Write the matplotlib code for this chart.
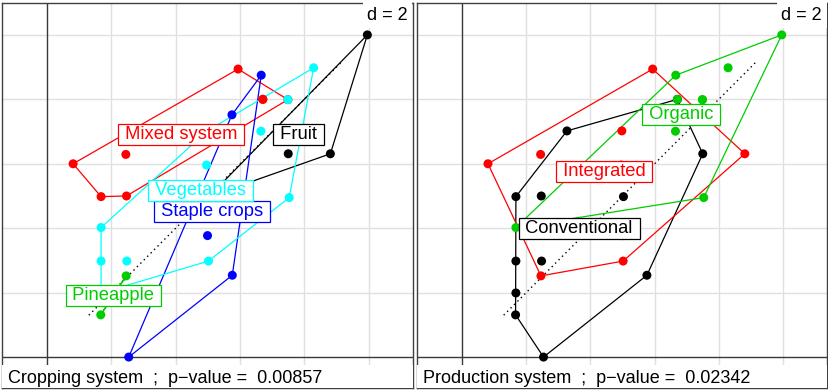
import matplotlib
matplotlib.use('Agg')
import matplotlib.pyplot as plt
import numpy as np
from matplotlib.patches import Rectangle

plt.rcParams['font.family'] = ['Liberation Sans', 'DejaVu Sans']

# sample scores on the two axes (31 samples)
x = [9.96, 8.81, 7.50, 5.03, 5.94, 6.71, 6.71, 7.49, 2.45, 0.81, 1.68, 2.47, 3.27,
     8.29, 7.49, 6.65, 4.96, 7.53, 5.02, 1.68, 1.68, 2.48, 1.68, 4.98,
     6.66, 5.75, 4.99, 5.76, 2.54, 2.46, 1.67]
y = [10.00, 6.31, 6.31, 4.98, 8.94, 8.00, 8.00, 7.99, 6.29, 6.00, 4.98, 5.00, 7.02,
     8.98, 7.99, 7.01, 5.96, 4.95, 2.98, 4.02, 2.98, 2.98, 1.99, 7.02,
     8.75, 7.52, 3.77, 2.54, 0.00, 2.52, 1.31]

crop = ['Fruit'] * 4 + ['Mixed system'] * 9 + ['Vegetables'] * 11 + \
       ['Staple crops'] * 5 + ['Pineapple'] * 2
prod = ['Organic', 'Integrated', 'Conventional', 'Conventional',
        'Integrated', 'Organic', 'Conventional', 'Organic', 'Integrated', 'Integrated',
        'Conventional', 'Conventional', 'Conventional',
        'Organic', 'Organic', 'Organic', 'Integrated', 'Organic', 'Integrated',
        'Organic', 'Conventional', 'Conventional', 'Conventional', 'Integrated',
        'Organic', 'Organic', 'Conventional', 'Conventional', 'Conventional',
        'Integrated', 'Conventional']

crop_levels = ['Fruit', 'Mixed system', 'Pineapple', 'Staple crops', 'Vegetables']
crop_colors = ['black', 'red', '#00CD00', 'blue', 'cyan']
prod_levels = ['Conventional', 'Integrated', 'Organic']
prod_colors = ['black', 'red', '#00CD00']

crop_title = 'Cropping system  ;  p\u2212value =  0.00857'
prod_title = 'Production system  ;  p\u2212value =  0.02342'

diag = [1.3, 9.2]
grid_ticks = [0, 2, 4, 6, 8, 10]

x = np.array(x)
y = np.array(y)


def convex_hull(pts):
    pts = sorted(set(map(tuple, pts)))
    if len(pts) < 3:
        return pts

    def cross(o, a, b):
        return (a[0] - o[0]) * (b[1] - o[1]) - (a[1] - o[1]) * (b[0] - o[0])

    lower = []
    for p in pts:
        while len(lower) >= 2 and cross(lower[-2], lower[-1], p) <= 0:
            lower.pop()
        lower.append(p)
    upper = []
    for p in reversed(pts):
        while len(upper) >= 2 and cross(upper[-2], upper[-1], p) <= 0:
            upper.pop()
        upper.append(p)
    return lower[:-1] + upper[:-1]


def panel(ax, groups, levels, colors, title):
    xmin, xmax, ymin, ymax = -1.41, 11.37, -0.96, 10.99
    ax.set_xlim(xmin, xmax)
    ax.set_ylim(ymin, ymax)
    ax.set_xticks([])
    ax.set_yticks([])
    for s in ax.spines.values():
        s.set_color('#404040')
        s.set_linewidth(1.0)

    # grid and origin axes
    for v in grid_ticks:
        if v == 0:
            ax.axvline(v, color='#383838', lw=1.0, zorder=0.5)
            ax.axhline(v, color='#383838', lw=1.0, zorder=0.5)
        else:
            ax.axvline(v, color='#e0e0e0', lw=1.0, zorder=0)
            ax.axhline(v, color='#e0e0e0', lw=1.0, zorder=0)

    ax.plot(diag, diag, color='black', lw=1.0, ls=(0, (1, 2.5)), zorder=1)

    groups = np.array(groups)
    # convex hulls
    for lev, col in zip(levels, colors):
        m = groups == lev
        hull = convex_hull(np.column_stack([x[m], y[m]]))
        hx = [p[0] for p in hull] + [hull[0][0]]
        hy = [p[1] for p in hull] + [hull[0][1]]
        ax.plot(hx, hy, color=col, lw=0.9, zorder=2)
    # points
    for lev, col in zip(levels, colors):
        m = groups == lev
        ax.scatter(x[m], y[m], s=42, color=col, edgecolors='none', zorder=3)
    # class labels at the class means
    for lev, col in zip(levels, colors):
        m = groups == lev
        ax.text(x[m].mean(), y[m].mean(), ' ' + lev + ' ', color=col,
                fontsize=13.2, ha='center', va='center', zorder=4,
                bbox=dict(boxstyle='square,pad=0.1', fc='white', ec=col, lw=0.9))

    ax.text(0.988, 0.99, 'd = 2', transform=ax.transAxes, ha='right', va='top',
            fontsize=13, zorder=5,
            bbox=dict(boxstyle='square,pad=0.25', fc='white', ec='none'))

    ax.add_patch(Rectangle((xmin, ymin), xmax - xmin, -0.25 - ymin,
                           fc='white', ec='none', zorder=5))
    ax.text(0.015, -0.82, title, ha='left', va='baseline',
            fontsize=13, zorder=6, transform=ax.get_yaxis_transform())


fig = plt.figure(figsize=(8.29, 3.91), dpi=100)
ax1 = fig.add_axes([1.7 / 829, 3 / 391, 411 / 829, 385 / 391])
ax2 = fig.add_axes([416.7 / 829, 3 / 391, 410.3 / 829, 385 / 391])

panel(ax1, crop, crop_levels, crop_colors, crop_title)
panel(ax2, prod, prod_levels, prod_colors, prod_title)

fig.savefig('out.png', dpi=100)
